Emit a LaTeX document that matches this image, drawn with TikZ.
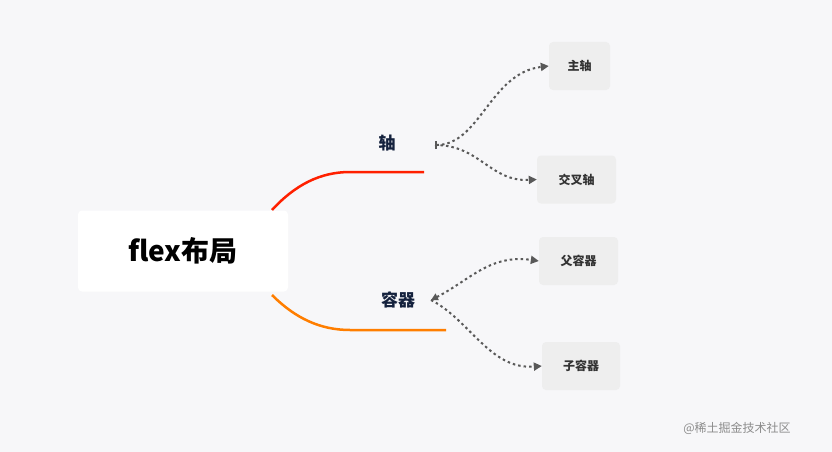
\documentclass[tikz,border=0pt]{standalone}
\usepackage{fontspec}
\setmainfont{Noto Sans CJK SC}
\usetikzlibrary{arrows.meta}
\definecolor{bg}{HTML}{F7F7F9}
\definecolor{boxc}{HTML}{EEEEEE}
\definecolor{dk}{HTML}{14213D}
\tikzset{
  leaf/.style={fill=boxc,rounded corners=4pt,minimum height=48pt,font=\bfseries\fontsize{12}{14}\selectfont,text=black!80,inner xsep=10pt},
  dot/.style={draw=black!65,line width=2pt,dash pattern=on 2.5pt off 3pt},
  lab/.style={font=\bfseries\fontsize{17}{20}\selectfont,text=dk}
}
\begin{document}
\begin{tikzpicture}[x=1pt,y=-1pt]
\fill[bg] (0,0) rectangle (832,452);
\useasboundingbox (0,0) rectangle (832,452);
\node[fill=white,rounded corners=4pt,minimum width=210pt,minimum height=81pt,font=\bfseries\fontsize{28}{32}\selectfont] (root) at (183,251) {flex布局};
\node[lab] (axis) at (387,143) {轴};
\node[lab] (cont) at (398,300) {容器};
\node[leaf,minimum width=61pt] (a1) at (579.5,66) {主轴};
\node[leaf,minimum width=79pt] (a2) at (576.5,179.5) {交叉轴};
\node[leaf,minimum width=79pt] (c1) at (578.5,261) {父容器};
\node[leaf,minimum width=78pt] (c2) at (581,366) {子容器};
\coordinate (rt) at (272,210);
\coordinate (rb) at (272,295);
\coordinate (ae) at (424,172);
\coordinate (ce) at (446,330);
\draw[red!75!orange,line width=2.5pt] (rt) .. controls (295,185) and (320,172) .. (350,172) -- (ae);
\draw[orange!90!yellow!90!red,line width=2.5pt] (rb) .. controls (295,318) and (320,330) .. (350,330) -- (ce);
\coordinate (as) at (435,145);
\coordinate (cs) at (431,300);
\draw[dot,{Bar[width=8pt,line width=2pt]}-{Triangle[length=8pt,width=8pt]}] (as) .. controls (480,145) and (490,73) .. (a1.west);
\draw[dot,-{Triangle[length=8pt,width=8pt]}] (as) .. controls (480,145) and (490,182) .. (a2.west);
\draw[dot,{Triangle[length=7pt,width=7pt]}-{Triangle[length=8pt,width=8pt]}] (cs) .. controls (470,280) and (490,254) .. (c1.west);
\draw[dot,-{Triangle[length=8pt,width=8pt]}] (cs) .. controls (470,320) and (490,370) .. (c2.west);
\node[font=\fontsize{12}{14}\selectfont,text=black!45] (wm) at (737,428) {@稀土掘金技术社区};
\end{tikzpicture}
\end{document}
